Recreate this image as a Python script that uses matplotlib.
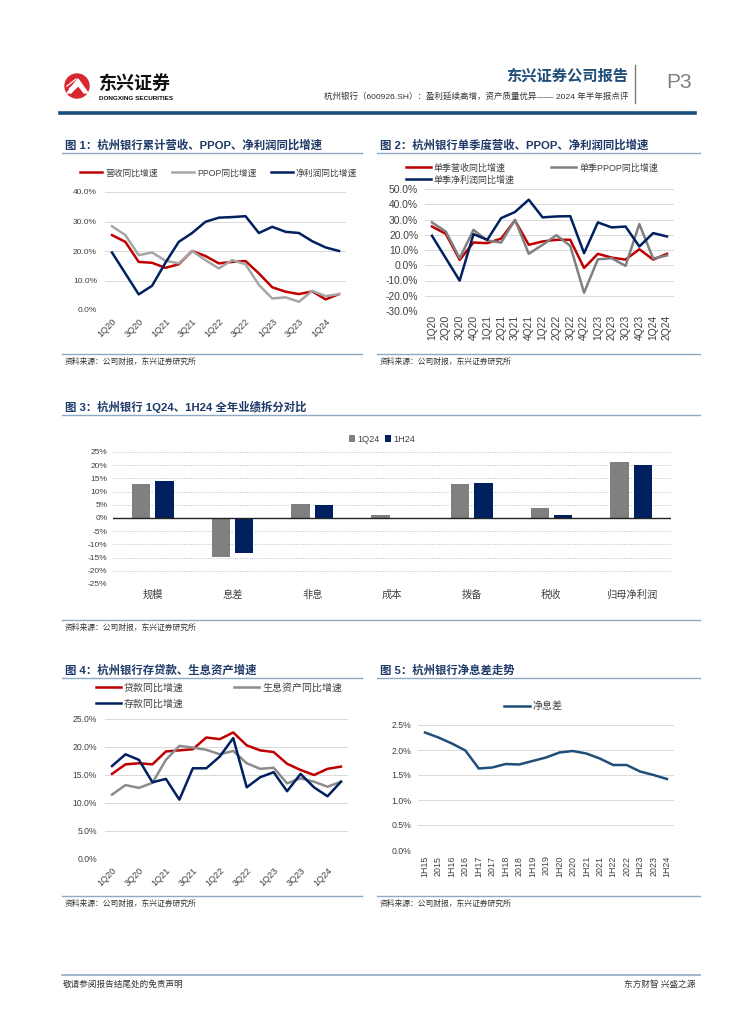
import numpy as np
import matplotlib
matplotlib.use('Agg')
import matplotlib.pyplot as plt
from matplotlib.patches import Circle, Polygon
from matplotlib.ticker import FuncFormatter

plt.rcParams['font.family'] = ['Liberation Sans', 'Noto Sans CJK SC']
plt.rcParams['axes.unicode_minus'] = False

# ---- data ----
quarters = ['1Q20', '2Q20', '3Q20', '4Q20', '1Q21', '2Q21', '3Q21', '4Q21', '1Q22',
            '2Q22', '3Q22', '4Q22', '1Q23', '2Q23', '3Q23', '4Q23', '1Q24', '2Q24']

# fig 1: cumulative yoy (%)
cum_rev = [25.4, 23.1, 16.3, 16.0, 14.3, 15.5, 20.0, 18.3, 15.8, 16.3, 16.6, 12.4, 7.7, 6.2, 5.4, 6.3, 3.6, 5.4]
cum_ppop = [28.4, 25.4, 18.6, 19.5, 16.7, 15.8, 20.0, 16.9, 14.1, 16.9, 15.5, 8.5, 3.9, 4.3, 2.8, 6.5, 4.7, 5.4]
cum_np = [19.5, 12.4, 5.3, 8.2, 16.0, 23.1, 26.1, 29.9, 31.3, 31.5, 31.8, 26.1, 28.2, 26.5, 26.1, 23.3, 21.2, 20.0]

# fig 2: single quarter yoy (%)
sq_rev = [25.4, 20.6, 3.5, 14.9, 14.5, 17.5, 29.4, 13.4, 15.6, 16.7, 16.7, -1.8, 7.5, 5.0, 3.7, 10.5, 3.7, 7.5]
sq_ppop = [28.1, 22.1, 4.6, 23.2, 16.2, 14.9, 29.8, 7.5, 13.4, 19.7, 12.7, -18.0, 3.9, 4.6, -0.4, 27.0, 4.4, 6.4]
sq_np = [19.3, 4.6, -10.1, 20.4, 16.7, 30.9, 34.9, 43.0, 31.4, 32.0, 32.2, 7.9, 28.1, 24.8, 25.4, 12.3, 21.1, 18.9]

# fig 3: attribution (%)
attr_cats = ['规模', '息差', '非息', '成本', '拨备', '税收', '归母净利润']
attr_1q24 = [13.0, -14.7, 5.4, 1.2, 13.0, 3.6, 21.2]
attr_1h24 = [13.9, -13.4, 4.9, 0.0, 13.4, 1.3, 20.2]

# fig 4: loans / earning assets / deposits yoy (%)
loan_g = [15.2, 16.9, 17.1, 16.9, 19.2, 19.4, 19.6, 21.7, 21.4, 22.6, 20.3, 19.4, 19.1, 17.0, 15.9, 15.0, 16.1, 16.5]
iea_g = [11.5, 13.2, 12.7, 13.6, 17.7, 20.2, 19.9, 19.5, 18.7, 19.3, 17.1, 16.1, 16.3, 13.5, 14.4, 13.8, 12.9, 13.8]
dep_g = [16.6, 18.7, 17.7, 13.7, 14.3, 10.6, 16.2, 16.2, 18.3, 21.6, 12.8, 14.6, 15.5, 12.1, 15.2, 12.8, 11.2, 13.8]

# fig 5: NIM (%)
nim_periods = ['1H15', '2015', '1H16', '2016', '1H17', '2017', '1H18', '2018', '1H19', '2019',
               '1H20', '2020', '1H21', '2021', '1H22', '2022', '1H23', '2023', '1H24']
nim = [2.35, 2.25, 2.13, 1.99, 1.63, 1.65, 1.72, 1.71, 1.78, 1.85,
       1.95, 1.98, 1.93, 1.83, 1.70, 1.70, 1.57, 1.50, 1.42]

# ---- styles ----
RED = '#C00000'
NAVY = '#002060'
TITLE_C = '#1F3A68'
RULE_C = '#8DA9C4'
GRID_C = '#D9D9D9'
TXT_C = '#404040'
W, H = 755, 1024

fig = plt.figure(figsize=(W / 100, H / 100), dpi=100)

# overlay for page decoration in pixel coords
ov = fig.add_axes([0, 0, 1, 1])
ov.set_xlim(0, W)
ov.set_ylim(H, 0)
ov.axis('off')


def px_axes(l, t, r, b):
    return fig.add_axes([l / W, 1 - b / H, (r - l) / W, (b - t) / H])


def pct_fmt(dec):
    return FuncFormatter(lambda v, p: f'{v:.{dec}f}%')


def style_line_ax(ax, size):
    for s in ax.spines.values():
        s.set_visible(False)
    ax.grid(axis='y', color=GRID_C, lw=0.7)
    ax.set_axisbelow(True)
    ax.tick_params(length=0, labelsize=size, colors=TXT_C)


def fig_title(x, y, text, x2):
    ov.text(x, y, text, fontsize=8.2, fontweight='bold', color=TITLE_C, va='center', ha='left')
    ov.plot([x - 3, x2], [y + 7.5, y + 7.5], color=RULE_C, lw=1.0)


def source(x, y, x2):
    ov.plot([x - 3, x2], [y - 8, y - 8], color=RULE_C, lw=1.0)
    ov.text(x, y, '资料来源：公司财报，东兴证券研究所', fontsize=5.6, color='#333333',
            va='center', ha='left', style='italic')


# ---- header ----
ov.add_patch(Circle((77, 86), 12, color='#D7282F'))
ov.add_patch(Polygon([[67, 93], [78, 79], [88, 93], [84, 93], [78, 85], [71, 93]], color='white'))
for k in range(3):
    ov.plot([67 + k * 2.5, 76 + k * 2.5], [86 + k * 2.5, 79 + k * 2.5], color='white', lw=0.9)
ov.text(99, 84, '东兴证券', fontsize=13, fontweight='bold', color='#111111', va='center', ha='left')
ov.text(99, 98, 'DONGXING SECURITIES', fontsize=4.6, fontweight='bold', color='#111111', va='center', ha='left')
ov.text(628, 76, '东兴证券公司报告', fontsize=11, fontweight='bold', color='#1F4E79', va='center', ha='right')
ov.text(628, 96, '杭州银行（600926.SH）：盈利延续高增，资产质量优异—— 2024 年半年报点评',
        fontsize=6.1, color='#333333', va='center', ha='right')
ov.plot([635, 635], [65, 103], color='#7F7F7F', lw=1.0)
ov.text(666, 82, 'P3', fontsize=15, color='#7F7F7F', va='center', ha='left')
ov.plot([60, 695], [113, 113], color='#1F4E79', lw=2.6)

# ---- footer ----
ov.plot([62, 700], [975, 975], color=RULE_C, lw=1.2)
ov.text(63, 984, '敬请参阅报告结尾处的免责声明', fontsize=6.2, color='#333333', va='center', ha='left')
ov.text(695, 984, '东方财智 兴盛之源', fontsize=6.2, color='#333333', va='center', ha='right')

x_q = np.arange(len(quarters))

# ---- fig 1 ----
fig_title(65, 145, '图 1：杭州银行累计营收、PPOP、净利润同比增速', 362)
ax1 = px_axes(105.3, 192, 345.7, 310)
ax1.plot(x_q, cum_rev, color=RED, lw=1.8, label='营收同比增速')
ax1.plot(x_q, cum_ppop, color='#A6A6A6', lw=1.8, label='PPOP同比增速')
ax1.plot(x_q, cum_np, color=NAVY, lw=1.8, label='净利润同比增速')
ax1.set_xlim(-0.5, len(quarters) - 0.5)
ax1.set_ylim(0, 40)
ax1.set_yticks(np.arange(0, 41, 10))
ax1.yaxis.set_major_formatter(pct_fmt(1))
style_line_ax(ax1, 6.0)
ax1.tick_params(axis='y', pad=6)
ax1.set_xticks(x_q[::2])
ax1.set_xticklabels(quarters[::2], rotation=45, ha='right', va='top', rotation_mode='anchor', fontsize=6.6)
ax1.tick_params(axis='x', pad=5)
ax1.legend(ncol=3, loc='center left', bbox_to_anchor=(80 / W, 1 - 173 / H), bbox_transform=fig.transFigure,
           frameon=False, fontsize=6.3, handlelength=2.5, handletextpad=0.4, columnspacing=1.6,
           borderpad=0, borderaxespad=0, labelcolor=TXT_C)
source(65, 362, 362)

# ---- fig 2 ----
fig_title(380, 145, '图 2：杭州银行单季度营收、PPOP、净利润同比增速', 700)
ax2 = px_axes(425.1, 189, 673.9, 311)
l_r, = ax2.plot(x_q, sq_rev, color=RED, lw=1.8, label='单季营收同比增速')
l_p, = ax2.plot(x_q, sq_ppop, color='#808080', lw=1.8, label='单季PPOP同比增速')
l_n, = ax2.plot(x_q, sq_np, color=NAVY, lw=1.8, label='单季净利润同比增速')
ax2.set_xlim(-0.5, len(quarters) - 0.5)
ax2.set_ylim(-30, 50)
ax2.set_yticks(np.arange(-30, 51, 10))
ax2.yaxis.set_major_formatter(pct_fmt(1))
style_line_ax(ax2, 7.4)
ax2.tick_params(axis='y', pad=5)
ax2.set_xticks(x_q)
ax2.set_xticklabels(quarters, rotation=90, ha='center', va='top', fontsize=7.4)
ax2.tick_params(axis='x', pad=3)
ax2.legend([l_r, l_n, l_p], [l_r.get_label(), l_n.get_label(), l_p.get_label()], ncol=2,
           loc='center left', bbox_to_anchor=(406 / W, 1 - 174 / H), bbox_transform=fig.transFigure,
           frameon=False, fontsize=6.5, handlelength=2.8, handletextpad=0.3, columnspacing=4.0,
           labelspacing=0.3, borderpad=0, borderaxespad=0, labelcolor=TXT_C)
source(380, 362, 700)

# ---- fig 3 ----
fig_title(65, 407, '图 3：杭州银行 1Q24、1H24 全年业绩拆分对比', 700)
ax3 = px_axes(113, 452, 671, 584)
x_c = np.arange(len(attr_cats))
bw = 0.23
ax3.bar(x_c - 0.146, attr_1q24, width=bw, color='#808080', label='1Q24', zorder=3)
ax3.bar(x_c + 0.146, attr_1h24, width=bw, color=NAVY, label='1H24', zorder=3)
ax3.axhline(0, color='#222222', lw=1.0, zorder=4)
ax3.set_xlim(-0.5, len(attr_cats) - 0.5)
ax3.set_ylim(-25, 25)
ax3.set_yticks(np.arange(-25, 26, 5))
ax3.yaxis.set_major_formatter(pct_fmt(0))
for s in ax3.spines.values():
    s.set_visible(False)
ax3.grid(axis='y', color='#BFBFBF', lw=0.7, linestyle=(0, (1, 1.5)))
ax3.set_axisbelow(True)
ax3.tick_params(length=0, colors=TXT_C)
ax3.tick_params(axis='y', labelsize=6.0, pad=4)
ax3.set_xticks(x_c)
ax3.set_xticklabels(attr_cats, fontsize=7.4)
ax3.tick_params(axis='x', pad=4)
ax3.legend(ncol=2, loc='center', bbox_to_anchor=(382 / W, 1 - 439 / H), bbox_transform=fig.transFigure,
           frameon=False, fontsize=6.6, handlelength=0.7, handleheight=0.7, handletextpad=0.2,
           columnspacing=0.6, borderpad=0, borderaxespad=0, labelcolor=TXT_C)
source(65, 628, 700)

# ---- fig 4 ----
fig_title(65, 670, '图 4：杭州银行存贷款、生息资产增速', 362)
ax4 = px_axes(105.3, 719, 347.7, 859)
l_l, = ax4.plot(x_q, loan_g, color=RED, lw=1.8, label='贷款同比增速')
l_i, = ax4.plot(x_q, iea_g, color='#8C8C8C', lw=1.8, label='生息资产同比增速')
l_d, = ax4.plot(x_q, dep_g, color=NAVY, lw=1.8, label='存款同比增速')
ax4.set_xlim(-0.5, len(quarters) - 0.5)
ax4.set_ylim(0, 25)
ax4.set_yticks(np.arange(0, 26, 5))
ax4.yaxis.set_major_formatter(pct_fmt(1))
style_line_ax(ax4, 6.2)
ax4.tick_params(axis='y', pad=6)
ax4.set_xticks(x_q[::2])
ax4.set_xticklabels(quarters[::2], rotation=45, ha='right', va='top', rotation_mode='anchor', fontsize=6.6)
ax4.tick_params(axis='x', pad=5)
ax4.legend([l_l, l_d, l_i], [l_l.get_label(), l_d.get_label(), l_i.get_label()], ncol=2,
           loc='center left', bbox_to_anchor=(96 / W, 1 - 695.5 / H), bbox_transform=fig.transFigure,
           frameon=False, fontsize=7.2, handlelength=2.5, handletextpad=0.3, columnspacing=5.0,
           labelspacing=0.6, borderpad=0, borderaxespad=0, labelcolor=TXT_C)
source(65, 904, 362)

# ---- fig 5 ----
fig_title(380, 670, '图 5：杭州银行净息差走势', 700)
ax5 = px_axes(418.3, 725, 673.7, 850)
x_n = np.arange(len(nim_periods))
ax5.plot(x_n, nim, color='#1F4E79', lw=1.8, label='净息差')
ax5.set_xlim(-0.5, len(nim_periods) - 0.5)
ax5.set_ylim(0, 2.5)
ax5.set_yticks(np.arange(0, 2.51, 0.5))
ax5.yaxis.set_major_formatter(pct_fmt(1))
style_line_ax(ax5, 6.3)
ax5.tick_params(axis='y', pad=5)
ax5.set_xticks(x_n)
ax5.set_xticklabels(nim_periods, rotation=90, ha='center', va='top', fontsize=6.4)
ax5.tick_params(axis='x', pad=4)
ax5.legend(loc='center left', bbox_to_anchor=(504 / W, 1 - 706 / H), bbox_transform=fig.transFigure,
           frameon=False, fontsize=7.2, handlelength=2.6, handletextpad=0.3,
           borderpad=0, borderaxespad=0, labelcolor=TXT_C)
source(380, 904, 700)

fig.savefig('out.png', dpi=100)
